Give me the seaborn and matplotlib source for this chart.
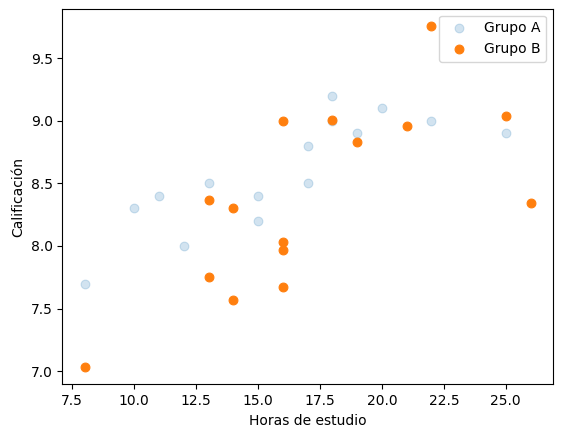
import matplotlib
matplotlib.use("Agg")
import matplotlib.pyplot as plt
import seaborn as sns

a_x = [8, 10, 11, 12, 13, 15, 15, 17, 17, 18, 18, 19, 20, 22, 25]
a_y = [7.7, 8.3, 8.4, 8.0, 8.5, 8.4, 8.2, 8.8, 8.5, 9.2, 9.0, 8.9, 9.1, 9.0, 8.9]
b_x = [8, 13, 13, 14, 14, 16, 16, 16, 16, 18, 19, 21, 22, 25, 26]
b_y = [7.03, 8.37, 7.75, 8.30, 7.57, 9.0, 8.03, 7.97, 7.67, 9.01, 8.83, 8.96, 9.76, 9.04, 8.34]

fig, ax = plt.subplots(figsize=(5.67, 4.32), dpi=100)
sns.scatterplot(x=a_x, y=a_y, ax=ax, color="#1f77b4", alpha=0.2, s=40, edgecolor="#1f77b4", linewidth=0.8, label="Grupo A")
sns.scatterplot(x=b_x, y=b_y, ax=ax, color="#ff7f0e", s=40, edgecolor="#ff7f0e", linewidth=0.8, label="Grupo B")
ax.set_xlabel("Horas de estudio")
ax.set_ylabel("Calificación")
ax.legend(loc="upper right")
fig.subplots_adjust(left=0.11, right=0.975, bottom=0.11, top=0.98)
fig.savefig("out.png")
